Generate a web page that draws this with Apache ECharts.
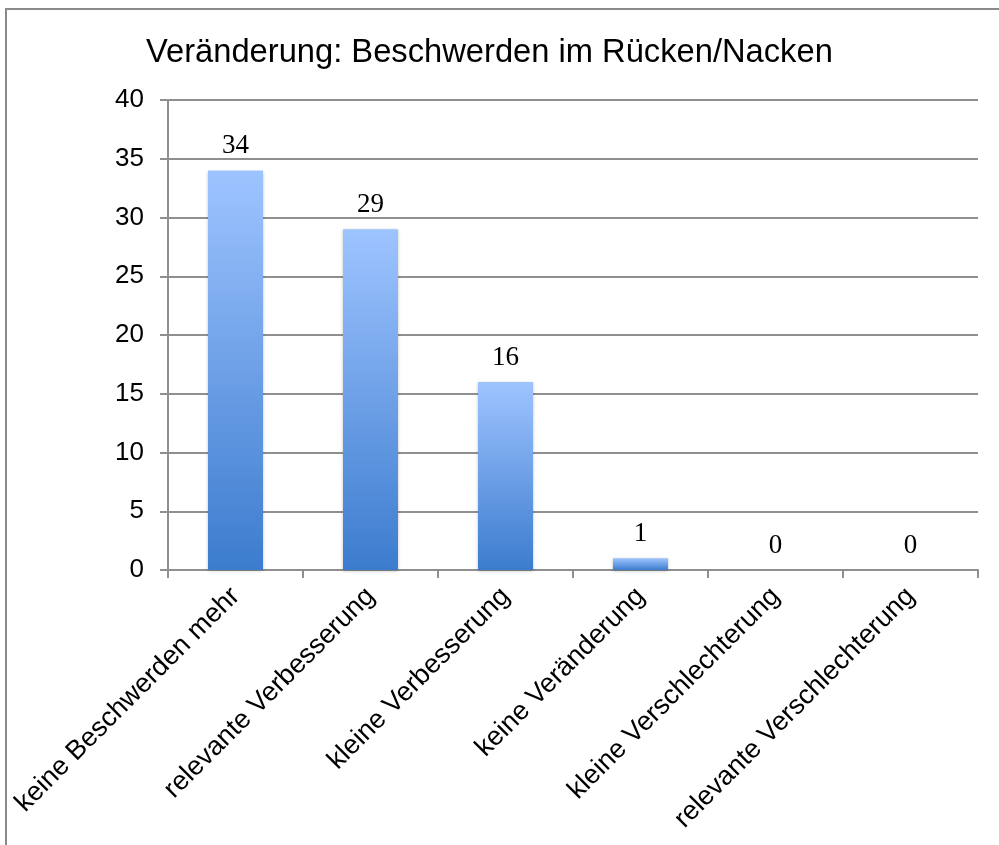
<!DOCTYPE html>
<html>
<head>
<meta charset="utf-8">
<script src="https://cdn.jsdelivr.net/npm/echarts@6/dist/echarts.min.js"></script>
<style>
  html, body { margin: 0; padding: 0; background: #fff; }
  #main { width: 999px; height: 845px; }
</style>
</head>
<body>
<div id="main"></div>
<script>
var titleText = 'Veränderung: Beschwerden im Rücken/Nacken';
var categories = ['keine Beschwerden mehr', 'relevante Verbesserung', 'kleine Verbesserung',
  'keine Veränderung', 'kleine Verschlechterung', 'relevante Verschlechterung'];
var counts = [34, 29, 16, 1, 0, 0];

var chartDom = document.getElementById('main');
var myChart = echarts.init(chartDom);
var option = {
  animation: false,
  // Rahmen: nur oben und links sichtbar
  graphic: [{
    type: 'rect',
    shape: { x: 6, y: 9, width: 1100, height: 1000 },
    style: { fill: 'none', stroke: '#8a8a8a', lineWidth: 2 }
  }],
  title: {
    text: titleText,
    left: 141,
    top: 31,
    textStyle: { fontFamily: 'Liberation Sans', fontWeight: 'normal', fontSize: 32.7, color: '#000' }
  },
  grid: { left: 168, right: 21, top: 100, bottom: 275 },
  xAxis: {
    type: 'category',
    data: categories,
    axisLine: { lineStyle: { color: '#8f8f8f', width: 2 } },
    axisTick: { show: true, length: 8, lineStyle: { color: '#8f8f8f', width: 2 } },
    axisLabel: {
      interval: 0,
      rotate: 45,
      margin: 22,
      color: '#000',
      fontFamily: 'Liberation Sans',
      fontSize: 27
    }
  },
  yAxis: {
    type: 'value',
    min: 0,
    max: 40,
    interval: 5,
    axisLine: { show: true, lineStyle: { color: '#8f8f8f', width: 2 } },
    axisTick: { show: true, length: 8, lineStyle: { color: '#8f8f8f', width: 2 } },
    splitLine: { lineStyle: { color: '#8f8f8f', width: 2 } },
    axisLabel: {
      margin: 24,
      color: '#000',
      fontFamily: 'Liberation Sans',
      fontSize: 26
    }
  },
  series: [{
    type: 'bar',
    data: counts,
    barWidth: 55,
    itemStyle: {
      color: new echarts.graphic.LinearGradient(0, 0, 0, 1, [
        { offset: 0, color: '#9ec4ff' },
        { offset: 1, color: '#3c7cce' }
      ]),
      shadowBlur: 3,
      shadowColor: 'rgba(0,0,0,0.25)',
      shadowOffsetY: 1
    },
    label: {
      show: true,
      position: 'top',
      distance: 11,
      color: '#000',
      fontFamily: 'Liberation Serif',
      fontSize: 27
    }
  }]
};
myChart.setOption(option);
</script>
</body>
</html>
